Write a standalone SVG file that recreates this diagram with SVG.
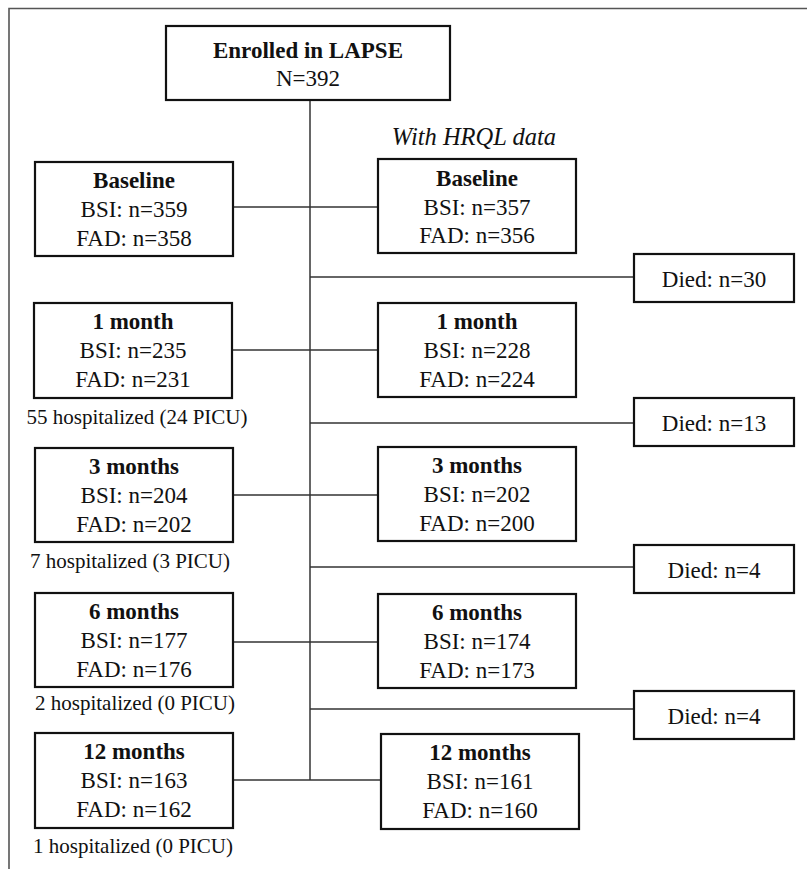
<svg xmlns="http://www.w3.org/2000/svg" width="807" height="869" viewBox="0 0 807 869">
<style>
.box{fill:#fff;stroke:#111;stroke-width:2.2}
.ln{stroke:#333;stroke-width:1.5;fill:none}
.frame{stroke:#555;stroke-width:1.6;fill:none}
text{font-family:"Liberation Serif","Times New Roman",serif;font-size:23px;fill:#111;text-anchor:middle}
.b{font-weight:bold}
.i{font-style:italic;font-size:24.5px}
.h{font-size:21px}
</style>
<rect width="807" height="869" fill="#fff"/>
<path class="frame" d="M9,869 V8.5 H807"/>
<g id="connectors">
<path class="ln" d="M310,100 V780"/>
<path class="ln" d="M233,207 H378"/>
<path class="ln" d="M310,277 H634"/>
<path class="ln" d="M232,350 H378"/>
<path class="ln" d="M310,423 H634"/>
<path class="ln" d="M233,495 H378"/>
<path class="ln" d="M310,567 H634"/>
<path class="ln" d="M233,642 H378"/>
<path class="ln" d="M310,709 H634"/>
<path class="ln" d="M233,780 H381"/>
</g>
<g id="enrolled"><rect class="box" x="166" y="26" width="284" height="74"/><text class="b" x="308" y="58">Enrolled in LAPSE</text><text x="308" y="86">N=392</text></g>
<text class="i" x="474" y="145">With HRQL data</text>
<g id="l-baseline"><rect class="box" x="35" y="162" width="198" height="94"/><text class="b" x="134" y="188">Baseline</text><text x="134" y="217">BSI: n=359</text><text x="134" y="246">FAD: n=358</text></g>
<g id="r-baseline"><rect class="box" x="378" y="159" width="198" height="94"/><text class="b" x="477" y="186">Baseline</text><text x="477" y="215">BSI: n=357</text><text x="477" y="243">FAD: n=356</text></g>
<g id="died1"><rect class="box" x="634" y="254" width="160" height="48"/><text x="714" y="287">Died: n=30</text></g>
<g id="l-1m"><rect class="box" x="34" y="303" width="198" height="95"/><text class="b" x="133" y="329">1 month</text><text x="133" y="358">BSI: n=235</text><text x="133" y="387">FAD: n=231</text></g>
<text class="h" x="137" y="424">55 hospitalized (24 PICU)</text>
<g id="r-1m"><rect class="box" x="378" y="303" width="198" height="94"/><text class="b" x="477" y="329">1 month</text><text x="477" y="358">BSI: n=228</text><text x="477" y="387">FAD: n=224</text></g>
<g id="died2"><rect class="box" x="634" y="398" width="160" height="48"/><text x="714" y="431">Died: n=13</text></g>
<g id="l-3m"><rect class="box" x="35" y="448" width="198" height="94"/><text class="b" x="134" y="474">3 months</text><text x="134" y="503">BSI: n=204</text><text x="134" y="532">FAD: n=202</text></g>
<text class="h" x="130" y="568">7 hospitalized (3 PICU)</text>
<g id="r-3m"><rect class="box" x="378" y="447" width="198" height="94"/><text class="b" x="477" y="473">3 months</text><text x="477" y="502">BSI: n=202</text><text x="477" y="531">FAD: n=200</text></g>
<g id="died3"><rect class="box" x="634" y="545" width="160" height="48"/><text x="714" y="578">Died: n=4</text></g>
<g id="l-6m"><rect class="box" x="35" y="593" width="198" height="94"/><text class="b" x="134" y="619">6 months</text><text x="134" y="648">BSI: n=177</text><text x="134" y="677">FAD: n=176</text></g>
<text class="h" x="135" y="710">2 hospitalized (0 PICU)</text>
<g id="r-6m"><rect class="box" x="378" y="594" width="198" height="94"/><text class="b" x="477" y="620">6 months</text><text x="477" y="649">BSI: n=174</text><text x="477" y="678">FAD: n=173</text></g>
<g id="died4"><rect class="box" x="634" y="691" width="160" height="48"/><text x="714" y="724">Died: n=4</text></g>
<g id="l-12m"><rect class="box" x="35" y="733" width="198" height="95"/><text class="b" x="134" y="759">12 months</text><text x="134" y="788">BSI: n=163</text><text x="134" y="817">FAD: n=162</text></g>
<text class="h" x="133" y="853">1 hospitalized (0 PICU)</text>
<g id="r-12m"><rect class="box" x="381" y="734" width="198" height="95"/><text class="b" x="480" y="760">12 months</text><text x="480" y="789">BSI: n=161</text><text x="480" y="818">FAD: n=160</text></g>
</svg>
